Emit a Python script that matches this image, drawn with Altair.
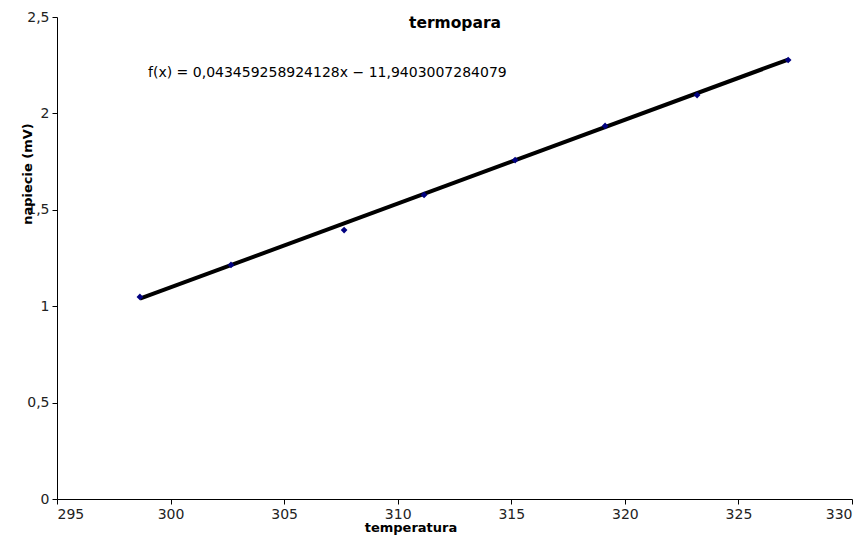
import altair as alt
import pandas as pd

temperatura = [298.65, 302.66, 307.64, 311.16, 315.17, 319.13, 323.18, 327.19]
napiecie = [1.048, 1.214, 1.395, 1.577, 1.758, 1.935, 2.095, 2.277]
slope = 0.043459258924128
intercept = -11.9403007284079
x_ticks = [295, 300, 305, 310, 315, 320, 325, 330]
y_ticks = [0, 0.5, 1, 1.5, 2, 2.5]
title_text = "termopara"
eq_text = "f(x) = 0,043459258924128x − 11,9403007284079"
x_title = "temperatura"
y_title = "napiecie (mV)"

W, H = 795, 482
FONT = "DejaVu Sans"

pts = pd.DataFrame({"t": temperatura, "u": napiecie})
xs = [min(temperatura), max(temperatura)]
trend = pd.DataFrame({"t": xs, "u": [slope * v + intercept for v in xs]})

xscale = alt.Scale(domain=[295, 330], nice=False, zero=False)
yscale = alt.Scale(domain=[0, 2.5], nice=False)

lbl = "replace(toString(datum.value), '.', ',')"
xaxis = alt.Axis(values=x_ticks, title=None, labelExpr=lbl)
yaxis = alt.Axis(values=y_ticks, title=None, labelExpr=lbl)

line = alt.Chart(trend).mark_line(color="black", strokeWidth=4).encode(
    x=alt.X("t:Q", scale=xscale, axis=xaxis),
    y=alt.Y("u:Q", scale=yscale, axis=yaxis),
)

points = alt.Chart(pts).mark_point(shape="diamond", filled=True, color="#000080", size=45, opacity=1).encode(
    x=alt.X("t:Q", scale=xscale),
    y=alt.Y("u:Q", scale=yscale),
)

title = alt.Chart(pd.DataFrame({"s": [title_text]})).mark_text(
    font=FONT, fontSize=15.5, fontWeight="bold", color="black", align="center", baseline="middle"
).encode(x=alt.value(W / 2 + 0.5), y=alt.value(6), text="s:N")

eq = alt.Chart(pd.DataFrame({"s": [eq_text]})).mark_text(
    font=FONT, fontSize=14, color="black", align="left", baseline="middle"
).encode(x=alt.value(91), y=alt.value(56), text="s:N")

xt = alt.Chart(pd.DataFrame({"s": [x_title]})).mark_text(
    font=FONT, fontSize=13, fontWeight="bold", color="black", align="center", baseline="middle"
).encode(x=alt.value(354), y=alt.value(511), text="s:N")

yt = alt.Chart(pd.DataFrame({"s": [y_title]})).mark_text(
    font=FONT, fontSize=13, fontWeight="bold", color="black", align="center", baseline="middle", angle=270
).encode(x=alt.value(-29), y=alt.value(157), text="s:N")

chart = alt.layer(line, points, title, eq, xt, yt).properties(
    width=W, height=H,
    autosize=alt.AutoSizeParams(type="none"),
    padding={"left": 49, "top": 9, "right": 6, "bottom": 45},
).configure_view(stroke=None).configure_axis(
    grid=False, domainColor="black", tickColor="black", labelColor="#222222",
    labelFont=FONT, labelFontSize=14, tickSize=5, domainWidth=1, tickWidth=1,
    labelPadding=3,
)

chart.save("out.html", embed_options={"renderer": "svg", "actions": False})
